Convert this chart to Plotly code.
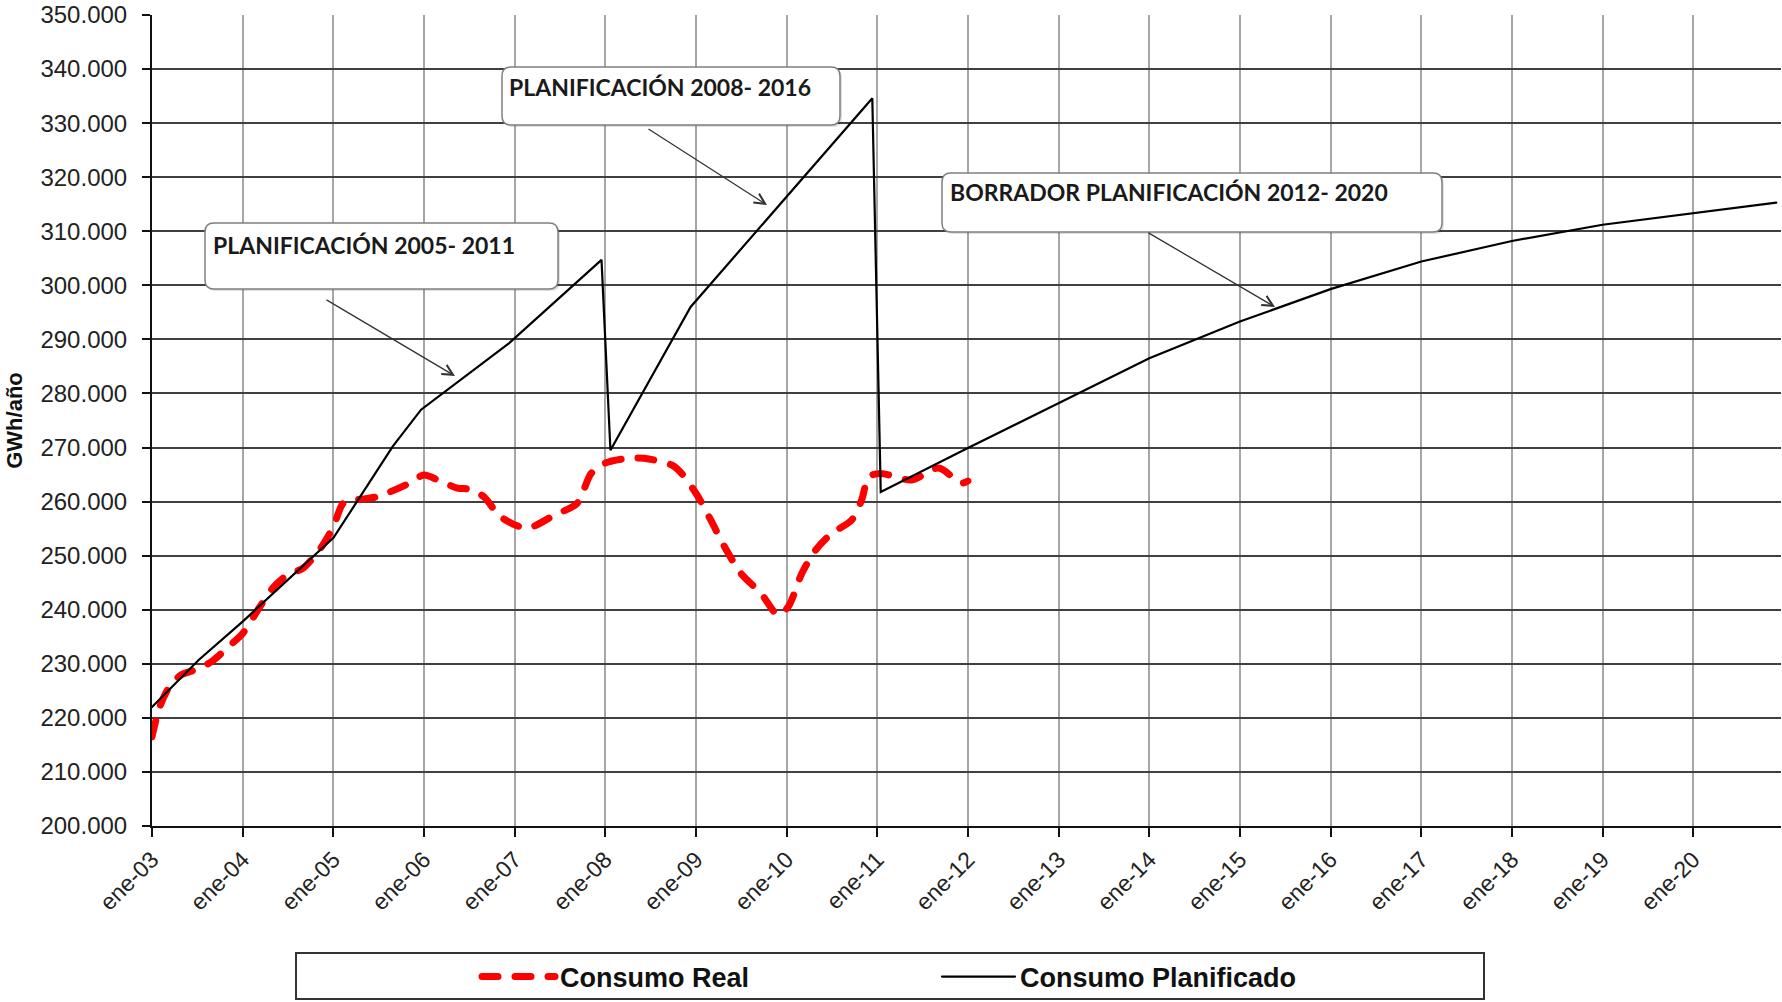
import plotly.graph_objects as go

# ---------------- data ----------------
real_dates = ["2003-01-01", "2003-02-01", "2003-03-15", "2003-05-01", "2003-07-01", "2003-09-01",
              "2003-11-01", "2004-01-01", "2004-03-10", "2004-05-01", "2004-07-01", "2004-09-01",
              "2004-11-15", "2005-01-01", "2005-02-10", "2005-04-01", "2005-06-25", "2005-10-20",
              "2006-01-01", "2006-02-25", "2006-05-15", "2006-07-01", "2006-08-30", "2006-11-05",
              "2007-02-20", "2007-06-10", "2007-09-10", "2007-11-05", "2007-12-31", "2008-03-15",
              "2008-06-05", "2008-10-05", "2009-01-01", "2009-03-01", "2009-04-25", "2009-07-01",
              "2009-09-20", "2009-11-28", "2010-01-08", "2010-03-03", "2010-04-27", "2010-07-01",
              "2010-09-20", "2010-10-30", "2010-11-28", "2011-01-15", "2011-05-20", "2011-09-05",
              "2011-12-05", "2012-01-01"]
real_values = [216500, 222000, 226000, 228000, 229000, 230500,
               233000, 235600, 240500, 244000, 246500, 247700,
               251700, 255400, 259700, 260300, 260900, 263100,
               264900, 264000, 262500, 262300, 260900, 257200,
               255100, 257500, 259700, 265200, 267100, 267900,
               268000, 266500, 261500, 256600, 251700, 246700,
               243000, 239000, 240600, 246700, 251000, 254100,
               256600, 260300, 264600, 265200, 264000, 266200,
               263400, 263800]

plan_dates = ["2003-01-01", "2003-07-08", "2004-01-01", "2005-01-01", "2005-08-28", "2005-12-20",
              "2006-12-10", "2007-12-17", "2008-01-22", "2008-12-10", "2010-12-12", "2011-01-15",
              "2012-01-01", "2013-01-01", "2014-01-01", "2015-01-01", "2016-01-01", "2017-01-01",
              "2018-01-01", "2019-01-01", "2020-01-01", "2020-12-01"]
plan_values = [222000, 230700, 237800, 253300, 270200, 277000,
               289300, 304700, 269500, 296000, 334600, 261800,
               269900, 278200, 286500, 293300, 299300, 304400,
               308200, 311200, 313300, 315300]

tick_dates = ["%d-01-01" % y for y in range(2003, 2021)]
tick_labels = ["ene-%02d" % (y % 100) for y in range(2003, 2021)]

series_names = ["Consumo Real", "Consumo Planificado"]
notes = ["PLANIFICACIÓN 2005- 2011", "PLANIFICACIÓN 2008- 2016", "BORRADOR PLANIFICACIÓN 2012- 2020"]

# ---------------- layout geometry (pixels) ----------------
FW, FH = 1782, 1002
L, R, T, B = 152, 1781, 15, 826
W, H = R - L, B - T


def px(x):
    return (x - L) / W


def py(y):
    return (B - y) / H


def rounded(x0, y0, x1, y1, r):
    def P(x, y):
        return "%.5f,%.5f" % (px(x), py(y))
    return ("M" + P(x0 + r, y0) + " L" + P(x1 - r, y0) + " Q" + P(x1, y0) + " " + P(x1, y0 + r) +
            " L" + P(x1, y1 - r) + " Q" + P(x1, y1) + " " + P(x1 - r, y1) +
            " L" + P(x0 + r, y1) + " Q" + P(x0, y1) + " " + P(x0, y1 - r) +
            " L" + P(x0, y0 + r) + " Q" + P(x0, y0) + " " + P(x0 + r, y0) + " Z")


fig = go.Figure()
fig.add_trace(go.Scatter(x=real_dates, y=real_values, name=series_names[0], mode="lines",
                         line=dict(color="#ff0000", width=7, dash="16px,17px", shape="spline", smoothing=0.8)))
fig.add_trace(go.Scatter(x=plan_dates, y=plan_values, name=series_names[1], mode="lines",
                         line=dict(color="#000000", width=2.2)))

shapes = []
annotations = []
boxes = [
    # box (x0,y0,x1,y1), text pos, arrow start, arrow tip
    ((205, 223, 558, 289), (211, 245), (325, 299), (455, 376)),
    ((502, 67, 840, 125), (507, 87), (647, 128), (767, 205)),
    ((942, 173, 1442, 232), (948, 192), (1147, 232), (1275, 307)),
]
for (b, tp, a0, a1), txt in zip(boxes, notes):
    x0, y0, x1, y1 = b
    shapes.append(dict(type="path", xref="paper", yref="paper", layer="above",
                       path=rounded(x0 + 2, y0 + 2, x1 + 2, y1 + 2, 9),
                       fillcolor="rgba(0,0,0,0.12)", line=dict(width=0)))
    shapes.append(dict(type="path", xref="paper", yref="paper", layer="above",
                       path=rounded(x0, y0, x1, y1, 9),
                       fillcolor="white", line=dict(color="#7f7f7f", width=1.5)))
    annotations.append(dict(text="<b>%s</b>" % txt, xref="paper", yref="paper",
                            x=px(tp[0]), y=py(tp[1]), xanchor="left", yanchor="middle",
                            showarrow=False,
                            font=dict(family="Lato", size=23, color="#1a1a1a")))
    annotations.append(dict(text="", xref="paper", yref="paper", x=px(a1[0]), y=py(a1[1]),
                            ax=a0[0] - a1[0], ay=a0[1] - a1[1], axref="pixel", ayref="pixel",
                            showarrow=True, arrowhead=5, arrowsize=1.6, arrowwidth=1.3,
                            arrowcolor="#333333"))

# legend frame
shapes.append(dict(type="rect", xref="paper", yref="paper", x0=px(296), x1=px(1484),
                   y0=py(953), y1=py(999), line=dict(color="#333333", width=2),
                   fillcolor="rgba(0,0,0,0)"))

fig.update_layout(
    width=FW, height=FH,
    margin=dict(l=L, r=FW - R, t=T, b=FH - B, autoexpand=False),
    paper_bgcolor="white", plot_bgcolor="white",
    separators=",.",
    font=dict(family="Liberation Sans, Arial", color="#222222"),
    shapes=shapes, annotations=annotations,
    showlegend=True,
    legend=dict(orientation="h", x=px(477), xanchor="left", y=py(977), yanchor="middle",
                entrywidth=372, entrywidthmode="pixels", itemwidth=73,
                font=dict(family="Liberation Sans, Arial", size=27, color="#111111", weight="bold"),
                bgcolor="rgba(0,0,0,0)", traceorder="normal"),
    xaxis=dict(type="date", range=["2003-01-01", "2020-12-20"],
               tickmode="array", tickvals=tick_dates, ticktext=tick_labels, tickangle=-45,
               ticks="outside", ticklen=9, tickwidth=2, tickcolor="#111111",
               showline=True, linecolor="#111111", linewidth=2,
               showgrid=True, gridcolor="#a6a6a6", gridwidth=2, zeroline=False,
               tickfont=dict(family="Liberation Sans, Arial", size=23, color="#222222"),
               automargin=False),
    yaxis=dict(range=[200000, 350000], tickmode="linear", tick0=200000, dtick=10000,
               tickformat=",d", ticks="outside", ticklen=8, tickwidth=2, tickcolor="#111111",
               showline=True, linecolor="#111111", linewidth=2,
               showgrid=True, gridcolor="#404040", gridwidth=2, zeroline=False,
               tickfont=dict(family="Liberation Sans, Arial", size=24, color="#222222"),
               ticklabelstandoff=10,
               title=dict(text="<b>GWh/año</b>", standoff=12,
                          font=dict(family="Liberation Sans, Arial", size=22, color="#111111")),
               automargin=False),
)

post = ("document.body.style.margin='0';document.body.style.overflow='hidden';"
        "document.querySelectorAll('.js-line').forEach(function(p){p.style.strokeLinecap='round';});")
fig.write_html("out.html", config={"displayModeBar": False}, post_script=post)
